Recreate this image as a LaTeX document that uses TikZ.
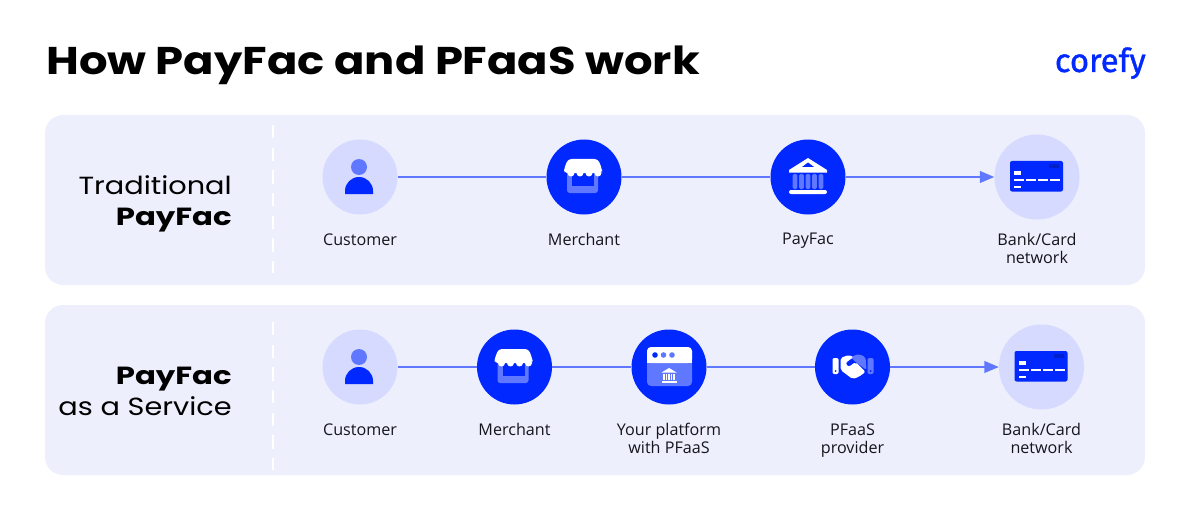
\documentclass[tikz,border=0pt]{standalone}
\usepackage{fontspec}
\setmainfont{Open Sans}
\newfontfamily\headfont[FakeStretch=1.16]{Poppins}
\newfontfamily\widefont[FakeStretch=1.24]{Poppins}
\newfontfamily\logofont[FakeBold=1.2]{Fira Sans}
\usepackage{xcolor}
\usetikzlibrary{arrows}
\definecolor{panelbg}{HTML}{EDEFFD}
\definecolor{softblue}{HTML}{D5DAFE}
\definecolor{midblue}{HTML}{6078FF}
\definecolor{deepblue}{HTML}{0028FF}
\definecolor{inkblack}{HTML}{15151C}

\tikzset{
  panel/.style={fill=panelbg,rounded corners=13.5pt,minimum width=825pt,minimum height=127.5pt,inner sep=0pt},
  light/.style={circle,fill=softblue,minimum size=56.25pt,inner sep=0pt},
  dark/.style={circle,fill=deepblue,minimum size=56.25pt,inner sep=0pt},
  large/.style={circle,fill=softblue,minimum size=63.75pt,inner sep=0pt},
  caption/.style={anchor=north,align=center,inner sep=0pt,text=inkblack,font=\fontsize{12.1pt}{13.5pt}\selectfont},
  rowname/.style={anchor=east,align=right,inner sep=0pt,text=black,font=\headfont\fontsize{18.6pt}{23.25pt}\selectfont},
  link/.style={midblue,line width=1.5pt},
  pics/person/.style={code={
    \fill[midblue] (-1,-10) circle (8);
    \fill[deepblue] (-15,17) -- (-15,14) arc[start angle=180,end angle=360,radius=14] -- (13,17) -- cycle;
  }},
  pics/shop/.style={code={
    \fill[midblue,rounded corners=2pt] (-17,-6) rectangle (14,16);
    \fill[deepblue] (-12,-6) rectangle (10,9);
    \fill[white,rounded corners=2.5pt] (-16,-18) -- (14,-18) -- (18,-8) -- (18,-4) -- (-20,-4) -- (-20,-8) -- cycle;
    \foreach \sx in {-13,-4,5,14} \fill[white] (\sx,-4) circle (3.5);
  }},
  pics/temple/.style={code={
    \fill[white] (0,-19) -- (19,-7) -- (19,-4.5) -- (-19,-4.5) -- (-19,-7) -- cycle;
    \fill[deepblue] (0,-14.5) -- (6,-10) -- (-6,-10) -- cycle;
    \foreach \sx in {-13,-6.5,0,6.5,13} \fill[midblue,rounded corners=1pt] (\sx-2.3,-3) rectangle (\sx+2.3,12);
    \fill[white,rounded corners=1.5pt] (-19,13) rectangle (19,17);
  }},
  pics/card/.style={code={
    \fill[deepblue,rounded corners=1.5pt] (-27,-16) rectangle (26,14.5);
    \fill[deepblue!80!black] (12,-13) rectangle (22,-9);
    \fill[white] (-23,-6) rectangle (-16,-2.5);
    \fill[white] (-23,8.5) rectangle (-16,10.5);
    \foreach \sx in {-23,-11,1,13} \fill[white] (\sx,2) rectangle (\sx+10,4);
  }},
  pics/browser/.style={code={
    \fill[midblue,rounded corners=3pt] (-22,-20) rectangle (23,19);
    \fill[white,rounded corners=3pt] (-22,-4) -- (-22,-20) -- (23,-20) -- (23,-4) -- cycle;
    \fill[white] (-22,-8) rectangle (23,-4);
    \fill[deepblue] (-14,-12) circle (2.8);
    \fill[midblue] (-5.5,-12) circle (2.8);
    \fill[midblue] (3,-12) circle (2.8);
    \fill[white] (0,1) -- (7.5,5.5) -- (-7.5,5.5) -- cycle;
    \foreach \sx in {-5,-2.5,0,2.5,5} \fill[white] (\sx-.7,6.5) rectangle (\sx+.7,13);
    \fill[white] (-7.5,14) rectangle (7.5,16);
  }},
  pics/shake/.style={code={
    \fill[white,rounded corners=1pt] (-20,-9) rectangle (-14,7);
    \fill[deepblue] (-17,4) circle (1);
    \fill[midblue,rounded corners=1pt] (15,-9) rectangle (21,7);
    \fill[deepblue] (18,4) circle (1);
    \fill[midblue,rounded corners=1.5pt] (-2,-10) -- (6.3,-13) -- (13,-10) -- (14,3) -- (3,-5) -- cycle;
    \fill[white,rounded corners=1.5pt] (-12,-9) -- (-4,-12) -- (1,-10) -- (-7,-4) -- (-4,0) -- (3,-5) -- (13,5) -- (6,10) -- (0,12) -- (-12,3) -- cycle;
  }},
}

\begin{document}
\begin{tikzpicture}[x=.75pt,y=-.75pt,>=triangle 45]
  \useasboundingbox (0,0) rectangle (1190,510);

  \node[anchor=base west,inner sep=0pt,text=black,font=\headfont\bfseries\fontsize{29pt}{32pt}\selectfont] (title) at (46,75) {How PayFac and PFaaS work};
  \node[anchor=base east,inner sep=0pt,text=deepblue,font=\logofont\fontsize{24.6pt}{28pt}\selectfont] (logo) at (1146,72) {corefy};
  \node[circle,fill=yellow!85!orange,minimum size=2pt,inner sep=0pt] (logodot) at (1079.5,62) {};

  \node[panel] (top) at (595,200) {};
  \node[panel] (bot) at (595,390) {};

  % divider lines
  \coordinate (topa) at (273,125);
  \coordinate (topb) at (273,273);
  \coordinate (bota) at (273,322);
  \coordinate (botb) at (273,470);
  \draw[white,line width=2pt,dash pattern=on 10pt off 7pt] (topa) -- (topb);
  \draw[white,line width=2pt,dash pattern=on 10pt off 7pt] (bota) -- (botb);

  \node[rowname] (trad) at (232,204) {Traditional\\{\widefont\bfseries PayFac}};
  \node[rowname] (pfaas) at (232,391) {{\widefont\bfseries PayFac}\\as a Service};

  % first row
  \node[light] (cust1) at (360,177) {};
  \node[dark]  (merch1) at (584,177) {};
  \node[dark]  (pf1) at (808,177) {};
  \node[large] (bank1) at (1037,177) {};

  \path[link] (cust1) edge (merch1)
              (merch1) edge (pf1)
              (pf1) edge[->] (bank1);

  \pic at (cust1) {person};
  \pic at (merch1) {shop};
  \pic at (pf1) {temple};
  \pic at (bank1) {card};

  \node[caption] (lcust1) at (360,234) {Customer};
  \node[caption] (lmerch1) at (584,233) {Merchant};
  \node[caption] (lpf1) at (808,233) {PayFac};
  \node[caption] (lbank1) at (1037,233) {Bank/Card\\network};

  % second row
  \node[light] (cust2) at (360,367) {};
  \node[dark]  (merch2) at (514.5,367) {};
  \node[dark]  (plat2) at (669,367) {};
  \node[dark]  (prov2) at (852.5,367) {};
  \node[large] (bank2) at (1041.5,367) {};

  \path[link] (cust2) edge (merch2)
              (merch2) edge (plat2)
              (plat2) edge (prov2)
              (prov2) edge[->] (bank2);

  \pic at (cust2) {person};
  \pic at (merch2) {shop};
  \pic at (plat2) {browser};
  \pic at (prov2) {shake};
  \pic at (bank2) {card};

  \node[caption] (lcust2) at (360,424) {Customer};
  \node[caption] (lmerch2) at (514.5,423) {Merchant};
  \node[caption] (lplat2) at (669,423) {Your platform\\with PFaaS};
  \node[caption] (lprov2) at (852.5,424) {PFaaS\\provider};
  \node[caption] (lbank2) at (1041.5,423) {Bank/Card\\network};
\end{tikzpicture}
\end{document}
